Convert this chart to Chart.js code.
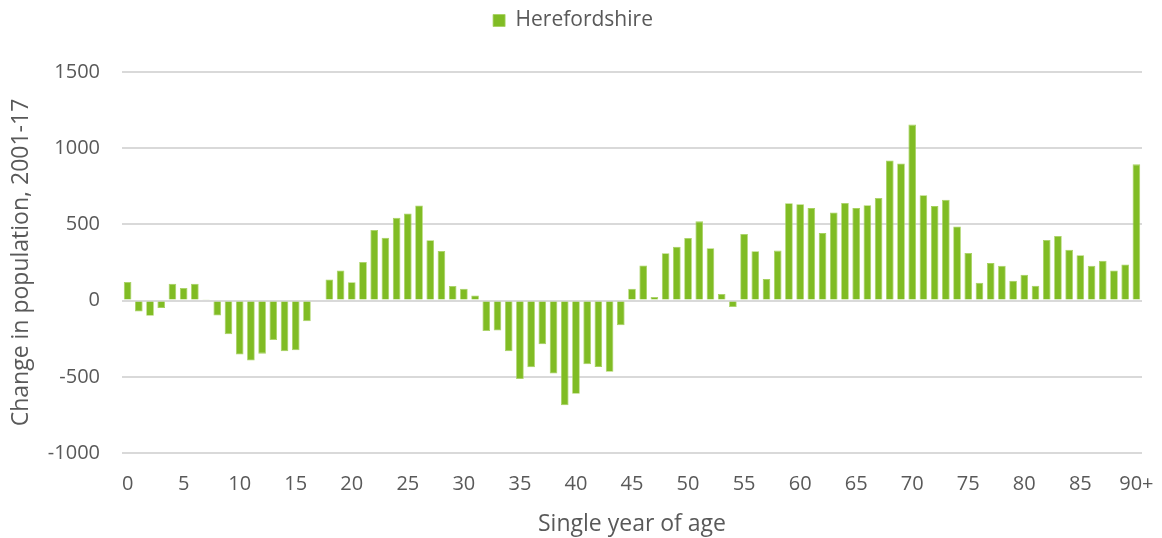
<!DOCTYPE html>
<html>
<head>
<meta charset="utf-8">
<script src="https://cdn.jsdelivr.net/npm/chart.js@4.4.1/dist/chart.umd.min.js"></script>
<style>
  html, body { margin: 0; padding: 0; background: #fff; }
  #wrap { width: 1162px; height: 538px; }
</style>
</head>
<body>
<div id="wrap"><canvas id="popChart"></canvas></div>
<script>
// ages 0..89 plus 90+
const ages = [];
for (let i = 0; i < 90; i++) ages.push(String(i));
ages.push('90+');

const seriesName = 'Herefordshire';

// change in population 2001-17
const change = [
  122, -72, -100, -48, 111, 83, 111, 5, -98, -220,
  -354, -393, -348, -259, -333, -326, -135, 0, 139, 198,
  120, 254, 463, 413, 543, 572, 624, 396, 326, 96,
  78, 33, -200, -196, -333, -515, -437, -287, -478, -687,
  -611, -417, -435, -467, -161, 78, 230, 24, 311, 354,
  411, 520, 344, 44, -42, 437, 324, 141, 328, 639,
  633, 607, 443, 578, 641, 607, 626, 674, 920, 900,
  1155, 691, 620, 661, 487, 313, 117, 246, 228, 130,
  170, 98, 398, 424, 333, 298, 228, 261, 198, 237,
  894
];

const yTicks = [1500, 1000, 500, 0, -500, -1000];

const textColor = '#595959';
const fontFamily = '"Open Sans", "Noto Sans", sans-serif';

// make the legend block a fixed height so the plot starts lower
const legendHeight = {
  id: 'legendHeight',
  beforeInit(chart) {
    const origFit = chart.legend.fit;
    chart.legend.fit = function () {
      origFit.bind(chart.legend)();
      this.height = 72;
    };
  }
};

const ctx = document.getElementById('popChart').getContext('2d');
const chart = new Chart(ctx, {
  type: 'bar',
  data: {
    labels: ages,
    datasets: [{
      label: seriesName,
      data: change,
      backgroundColor: '#80bc24',
      borderColor: '#a6d15e',
      borderWidth: 0.8,
      barPercentage: 0.68,
      categoryPercentage: 1.0
    }]
  },
  options: {
    responsive: true,
    maintainAspectRatio: false,
    animation: false,
    layout: { padding: { left: 4, right: 20, top: 0, bottom: 0 } },
    plugins: {
      legend: {
        position: 'top',
        labels: {
          color: textColor,
          font: { family: fontFamily, size: 21 },
          boxWidth: 12,
          boxHeight: 12,
          padding: 10
        }
      },
      tooltip: { enabled: false }
    },
    scales: {
      x: {
        grid: { display: false, drawTicks: false },
        border: { display: false },
        afterFit: function (axis) {
          axis.height = 85;
          axis.paddingRight = 0;
          axis.paddingLeft = 0;
        },
        ticks: {
          color: textColor,
          font: { family: fontFamily, size: 20 },
          autoSkip: false,
          maxRotation: 0,
          padding: 19,
          callback: function (val, idx) {
            return (idx % 5 === 0) ? ages[idx] : null;
          }
        },
        title: {
          display: true,
          text: 'Single year of age',
          color: textColor,
          font: { family: fontFamily, size: 23 },
          padding: { top: 0, bottom: 0 }
        }
      },
      y: {
        min: -1000,
        max: 1500,
        afterBuildTicks: function (axis) {
          axis.ticks = yTicks.map(v => ({ value: v }));
        },
        afterFit: function (axis) {
          axis.width = 118;
        },
        grid: { color: '#d9d9d9', lineWidth: 2, drawTicks: false },
        border: { display: false },
        ticks: {
          color: textColor,
          font: { family: fontFamily, size: 20 },
          padding: 22,
          callback: function (val) {
            return String(val);
          }
        },
        title: {
          display: true,
          text: 'Change in population, 2001-17',
          color: textColor,
          font: { family: fontFamily, size: 23 },
          padding: { bottom: 0 }
        }
      }
    }
  },
  plugins: [legendHeight]
});
</script>
</body>
</html>
